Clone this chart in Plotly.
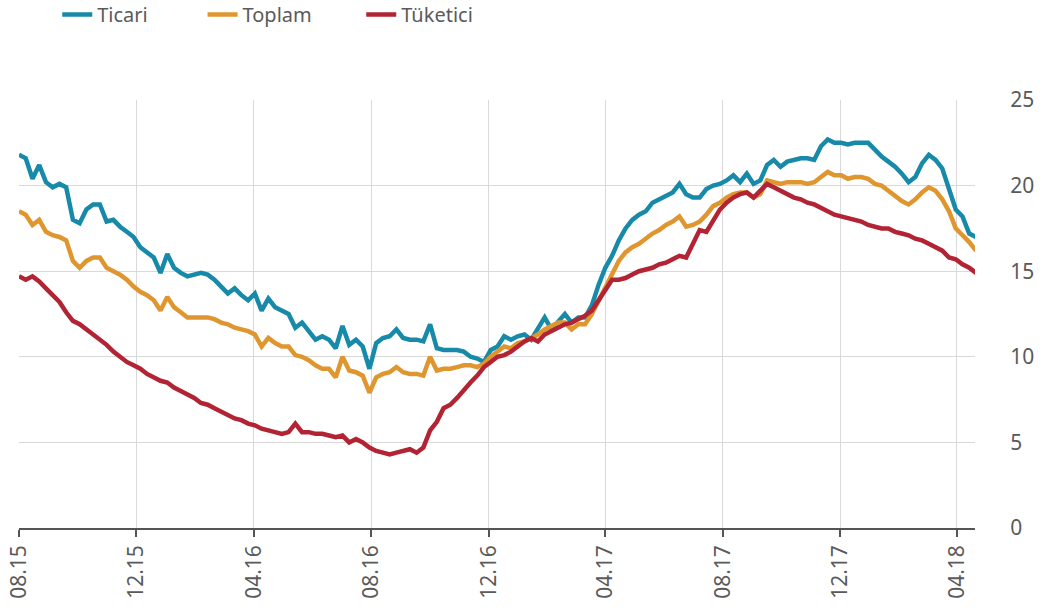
import pandas as pd
import plotly.graph_objects as go

# Weekly observations, 2015-08 .. 2018-04
start_date = "2015-08-01"
n_weeks = 143

ticari = [
    21.8, 21.6, 20.4, 21.2, 20.2, 19.9, 20.1, 19.9, 18.0, 17.8,
    18.6, 18.9, 18.9, 17.9, 18.0, 17.6, 17.3, 17.0, 16.4, 16.1,
    15.8, 14.9, 16.0, 15.2, 14.9, 14.7, 14.8, 14.9, 14.8, 14.5,
    14.1, 13.7, 14.0, 13.6, 13.3, 13.7, 12.7, 13.4, 12.9, 12.7,
    12.5, 11.7, 12.0, 11.5, 11.0, 11.2, 11.0, 10.5, 11.8, 10.7,
    11.0, 10.6, 9.3, 10.8, 11.1, 11.2, 11.6, 11.1, 11.0, 11.0,
    10.9, 11.9, 10.5, 10.4, 10.4, 10.4, 10.3, 10.0, 9.9, 9.7,
    10.4, 10.6, 11.2, 11.0, 11.2, 11.3, 11.0, 11.7, 12.3, 11.6,
    12.1, 12.5, 12.0, 12.3, 12.3, 13.0, 14.2, 15.2, 15.9, 16.8,
    17.5, 18.0, 18.3, 18.5, 19.0, 19.2, 19.4, 19.6, 20.1, 19.5,
    19.3, 19.3, 19.8, 20.0, 20.1, 20.3, 20.6, 20.2, 20.7, 20.1,
    20.3, 21.2, 21.5, 21.1, 21.4, 21.5, 21.6, 21.6, 21.5, 22.3,
    22.7, 22.5, 22.5, 22.4, 22.5, 22.5, 22.5, 22.1, 21.7, 21.4,
    21.1, 20.7, 20.2, 20.5, 21.3, 21.8, 21.5, 21.0, 19.8, 18.6,
    18.2, 17.2, 17.0,
]

toplam = [
    18.5, 18.3, 17.7, 18.0, 17.3, 17.1, 17.0, 16.8, 15.6, 15.2,
    15.6, 15.8, 15.8, 15.2, 15.0, 14.8, 14.5, 14.1, 13.8, 13.6,
    13.3, 12.7, 13.5, 12.9, 12.6, 12.3, 12.3, 12.3, 12.3, 12.2,
    12.0, 11.9, 11.7, 11.6, 11.5, 11.3, 10.6, 11.1, 10.8, 10.6,
    10.6, 10.1, 10.0, 9.8, 9.5, 9.3, 9.3, 8.8, 10.0, 9.2,
    9.1, 8.9, 7.9, 8.8, 9.0, 9.1, 9.4, 9.1, 9.0, 9.0,
    8.9, 10.0, 9.2, 9.3, 9.3, 9.4, 9.5, 9.5, 9.4, 9.6,
    10.0, 10.3, 10.6, 10.5, 10.8, 10.9, 11.1, 11.3, 11.6, 11.8,
    12.0, 12.0, 11.6, 11.9, 11.9, 12.5, 13.3, 14.0, 14.8, 15.6,
    16.1, 16.4, 16.6, 16.9, 17.2, 17.4, 17.7, 17.9, 18.2, 17.6,
    17.7, 17.9, 18.3, 18.8, 19.0, 19.3, 19.5, 19.6, 19.6, 19.3,
    19.5, 20.3, 20.2, 20.1, 20.2, 20.2, 20.2, 20.1, 20.2, 20.5,
    20.8, 20.6, 20.6, 20.4, 20.5, 20.5, 20.4, 20.1, 20.0, 19.7,
    19.4, 19.1, 18.9, 19.2, 19.6, 19.9, 19.7, 19.2, 18.5, 17.5,
    17.1, 16.7, 16.2,
]

tuketici = [
    14.7, 14.5, 14.7, 14.4, 14.0, 13.6, 13.2, 12.6, 12.1, 11.9,
    11.6, 11.3, 11.0, 10.7, 10.3, 10.0, 9.7, 9.5, 9.3, 9.0,
    8.8, 8.6, 8.5, 8.2, 8.0, 7.8, 7.6, 7.3, 7.2, 7.0,
    6.8, 6.6, 6.4, 6.3, 6.1, 6.0, 5.8, 5.7, 5.6, 5.5,
    5.6, 6.1, 5.6, 5.6, 5.5, 5.5, 5.4, 5.3, 5.4, 5.0,
    5.2, 5.0, 4.7, 4.5, 4.4, 4.3, 4.4, 4.5, 4.6, 4.4,
    4.7, 5.7, 6.2, 7.0, 7.2, 7.6, 8.1, 8.5, 8.9, 9.4,
    9.7, 10.0, 10.1, 10.3, 10.6, 10.9, 11.1, 10.9, 11.3, 11.5,
    11.7, 11.9, 12.0, 12.2, 12.4, 12.7, 13.3, 13.8, 14.5, 14.5,
    14.6, 14.8, 15.0, 15.1, 15.2, 15.4, 15.5, 15.7, 15.9, 15.8,
    16.6, 17.4, 17.3, 18.0, 18.6, 19.0, 19.3, 19.5, 19.6, 19.3,
    19.7, 20.1, 19.9, 19.7, 19.5, 19.3, 19.2, 19.0, 18.9, 18.7,
    18.5, 18.3, 18.2, 18.1, 18.0, 17.9, 17.7, 17.6, 17.5, 17.5,
    17.3, 17.2, 17.1, 16.9, 16.8, 16.6, 16.4, 16.2, 15.8, 15.7,
    15.4, 15.2, 14.9,
]

series_names = ["Ticari", "Toplam", "Tüketici"]
series_colors = ["#168aa8", "#e0962f", "#b22334"]
tick_dates = ["2015-08-01", "2015-12-01", "2016-04-01", "2016-08-01", "2016-12-01",
              "2017-04-01", "2017-08-01", "2017-12-01", "2018-04-01"]
tick_labels = ["08.15", "12.15", "04.16", "08.16", "12.16",
               "04.17", "08.17", "12.17", "04.18"]
y_ticks = [0, 5, 10, 15, 20, 25]

dates = pd.date_range(start_date, periods=n_weeks, freq="7D")

FONT = "Noto Sans, Open Sans, sans-serif"
GRAY = "#5a5a5a"

fig = go.Figure()
legend_ids = ["legend", "legend2", "legend3"]
for name, vals, col, lg in zip(series_names, [ticari, toplam, tuketici], series_colors, legend_ids):
    fig.add_trace(go.Scatter(
        x=dates, y=vals, mode="lines", name=name,
        line=dict(color=col, width=4.5, shape="linear"),
        legend=lg, showlegend=True,
    ))

legend_common = dict(
    orientation="h", yanchor="middle", xanchor="left",
    font=dict(family=FONT, size=20, color=GRAY),
    bgcolor="rgba(0,0,0,0)", itemwidth=30, tracegroupgap=0,
)
fig.update_layout(
    width=1048, height=611,
    showlegend=True,
    margin=dict(l=19, r=73, t=100, b=83, autoexpand=False),
    paper_bgcolor="white", plot_bgcolor="white",
    font=dict(family=FONT, color=GRAY),
    legend=dict(x=0.040, y=1.2, **legend_common),
    legend2=dict(x=0.192, y=1.2, **legend_common),
    legend3=dict(x=0.358, y=1.2, **legend_common),
    xaxis=dict(
        type="date",
        range=["2015-08-01", "2018-04-20"],
        tickmode="array", tickvals=tick_dates, ticktext=tick_labels,
        tickangle=-90, automargin=False,
        tickfont=dict(family=FONT, size=21, color=GRAY),
        showgrid=True, gridcolor="#d9d9d9", gridwidth=1,
        showline=True, linecolor="#555555", linewidth=1.5,
        ticks="outside", ticklen=7, tickcolor="#555555", tickwidth=1.5,
        zeroline=False,
    ),
    yaxis=dict(
        side="right", range=[0, 25], automargin=False,
        tickmode="array", tickvals=y_ticks,
        tickfont=dict(family=FONT, size=21, color=GRAY),
        showgrid=True, gridcolor="#d9d9d9", gridwidth=1,
        zeroline=False, showline=False,
        ticks="outside", ticklen=30, tickcolor="rgba(0,0,0,0)",
    ),
)

fig.write_html(
    "out.html",
    config={"displayModeBar": False},
    post_script="document.body.style.margin='0px';",
)
